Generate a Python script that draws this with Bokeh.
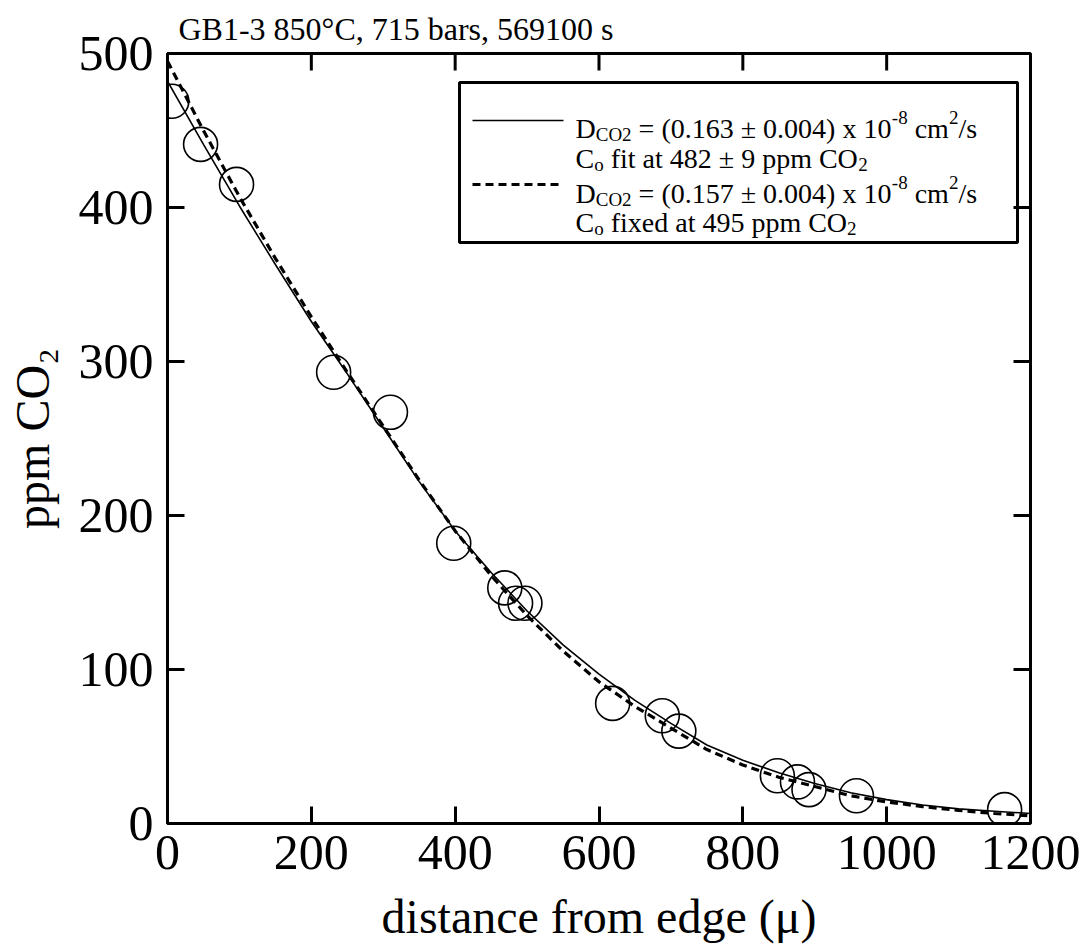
from bokeh.plotting import figure
from bokeh.models import Range1d, LinearAxis, FixedTicker, Label, BoxAnnotation, Title
from bokeh.embed import file_html
from bokeh.resources import INLINE

# ---------------- data ----------------
distance_um = [6, 46, 96, 231, 310, 398, 469, 484, 497, 619, 688, 711, 848, 876, 892, 958, 1164]
ppm_co2 = [469, 441, 415, 293, 267, 182, 153, 143, 143, 78, 70, 60, 31, 27, 22, 18, 9]

curve_x = [0, 50, 100, 150, 200, 250, 300, 350, 400, 450, 500, 550, 600,
           650, 700, 750, 800, 850, 900, 950, 1000, 1050, 1100, 1150, 1200]
fit_c0_free = [482, 441, 401, 363, 326, 292, 257, 222, 190, 163, 138, 116, 97,
               80, 65, 51, 41, 33, 26, 20, 15.5, 12, 9.5, 8, 6.5]
fit_c0_fixed = [495, 450, 407, 367, 329, 293, 258, 223, 190, 161, 135, 112, 92,
                76, 62, 48, 38, 30, 24, 18, 14, 11, 8.5, 6.5, 5]

x_ticks = [0, 200, 400, 600, 800, 1000, 1200]
y_ticks = [0, 100, 200, 300, 400, 500]

title_text = "GB1-3 850°C, 715 bars, 569100 s"
x_label = "distance from edge (μ)"
y_label = "ppm CO₂"

# ---------------- layout ----------------
W_PX, H_PX = 1085, 946
L, R, T, B = 167, 1030, 53, 823
FONT = "Liberation Serif"
TICK_LEN = 17

p = figure(width=W_PX, height=H_PX, output_backend="svg", toolbar_location=None,
           x_range=Range1d(0, 1200), y_range=Range1d(0, 500),
           min_border_left=L, min_border_right=W_PX - R,
           min_border_top=T, min_border_bottom=H_PX - B,
           x_axis_type=None, y_axis_type=None)
p.grid.visible = False
p.outline_line_color = "black"
p.outline_line_width = 3
p.background_fill_color = "white"
p.border_fill_color = "white"


def dx(px):
    return (px - L) * 1200 / (R - L)


def dy(py):
    return (B - py) * 500 / (B - T)


def style_axis(ax):
    ax.axis_line_color = None
    ax.major_tick_in = TICK_LEN
    ax.major_tick_out = 0
    ax.major_tick_line_width = 3
    ax.major_tick_line_color = "black"
    ax.minor_tick_line_color = None
    ax.major_label_text_font = FONT
    ax.major_label_text_font_size = "50px"
    ax.major_label_text_color = "black"
    ax.axis_label_text_font = FONT
    ax.axis_label_text_font_size = "48px"
    ax.axis_label_text_font_style = "normal"
    ax.axis_label_text_color = "black"


xb = LinearAxis(ticker=FixedTicker(ticks=x_ticks), axis_label=x_label)
style_axis(xb)
xb.major_label_standoff = 12
xb.axis_label_standoff = 18
p.add_layout(xb, "below")

yl = LinearAxis(ticker=FixedTicker(ticks=y_ticks), axis_label=y_label)
style_axis(yl)
yl.major_label_standoff = 14
yl.axis_label_standoff = 17
p.add_layout(yl, "left")

p.title = Title(text=title_text, align="left", offset=11, text_font=FONT,
                text_font_size="32px", text_font_style="normal", text_color="black",
                standoff=14)

# inward ticks on the top and right edges
top_tx = [t for t in x_ticks if 0 < t < 1200]
p.segment(x0=top_tx, y0=[500] * len(top_tx), x1=top_tx,
          y1=[500 - TICK_LEN * 500 / (B - T)] * len(top_tx),
          line_color="black", line_width=3)
right_ty = [t for t in y_ticks if 0 < t < 500]
p.segment(x0=[1200] * len(right_ty), y0=right_ty,
          x1=[1200 - TICK_LEN * 1200 / (R - L)] * len(right_ty), y1=right_ty,
          line_color="black", line_width=3)

# ---------------- curves and points ----------------
p.line(curve_x, fit_c0_free, line_color="black", line_width=1.6)
p.line(curve_x, fit_c0_fixed, line_color="black", line_width=3.2, line_dash="8 5")
p.scatter(distance_um, ppm_co2, marker="circle", size=34, fill_color=None,
          line_color="black", line_width=1.6)

# ---------------- legend (drawn by hand, with sub/superscripts) ----------------
p.add_layout(BoxAnnotation(left=dx(459), right=dx(1017), top=dy(82), bottom=dy(242),
                           fill_color="white", fill_alpha=1.0, line_alpha=1.0,
                           line_color="black", line_width=3, level="underlay"))

p.segment(x0=[dx(472)], y0=[dy(120)], x1=[dx(563)], y1=[dy(120)],
          line_color="black", line_width=1.6)
p.segment(x0=[dx(472)], y0=[dy(184)], x1=[dx(563)], y1=[dy(184)],
          line_color="black", line_width=3.2, line_dash="8 5")

CW = {" ": .25, "(": .333, ")": .333, ".": .25, "±": .564, "=": .564, "x": .5,
      "-": .333, "c": .444, "m": .778, "/": .278, "s": .389, "C": .667, "O": .722,
      "D": .722, "f": .333, "i": .278, "t": .278, "a": .444, "p": .5, "e": .444,
      "d": .5, "o": .5}


def tw(s, size):
    return sum(CW.get(c, .5) for c in s) * size


BIG, SMALL = 28, 19
SUB, SUP = 6, -11


def put(pieces, x0, base):
    x = x0
    for text, size, shift in pieces:
        stripped = text.lstrip(" ")
        x += tw(text[:len(text) - len(stripped)], size)
        p.add_layout(Label(x=dx(x), y=dy(base + shift), text=stripped,
                           text_font=FONT, text_font_size=f"{size}px",
                           text_baseline="alphabetic", text_align="left",
                           text_color="black"))
        x += tw(stripped, size)


TX = 575
put([("D", BIG, 0), ("CO2", SMALL, SUB), (" = (0.163 ± 0.004) x 10", BIG, 0),
     ("-8", SMALL, SUP), (" cm", BIG, 0), ("2", SMALL, SUP), ("/s", BIG, 0)], TX, 128)
put([("C", BIG, 0), ("o", SMALL, SUB), (" fit at 482 ± 9 ppm CO", BIG, 0),
     ("2", SMALL, SUB)], TX, 158)
put([("D", BIG, 0), ("CO2", SMALL, SUB), (" = (0.157 ± 0.004) x 10", BIG, 0),
     ("-8", SMALL, SUP), (" cm", BIG, 0), ("2", SMALL, SUP), ("/s", BIG, 0)], TX, 193)
put([("C", BIG, 0), ("o", SMALL, SUB), (" fixed at 495 ppm CO", BIG, 0),
     ("2", SMALL, SUB)], TX, 222)

open("out.html", "w").write(file_html(p, INLINE))
